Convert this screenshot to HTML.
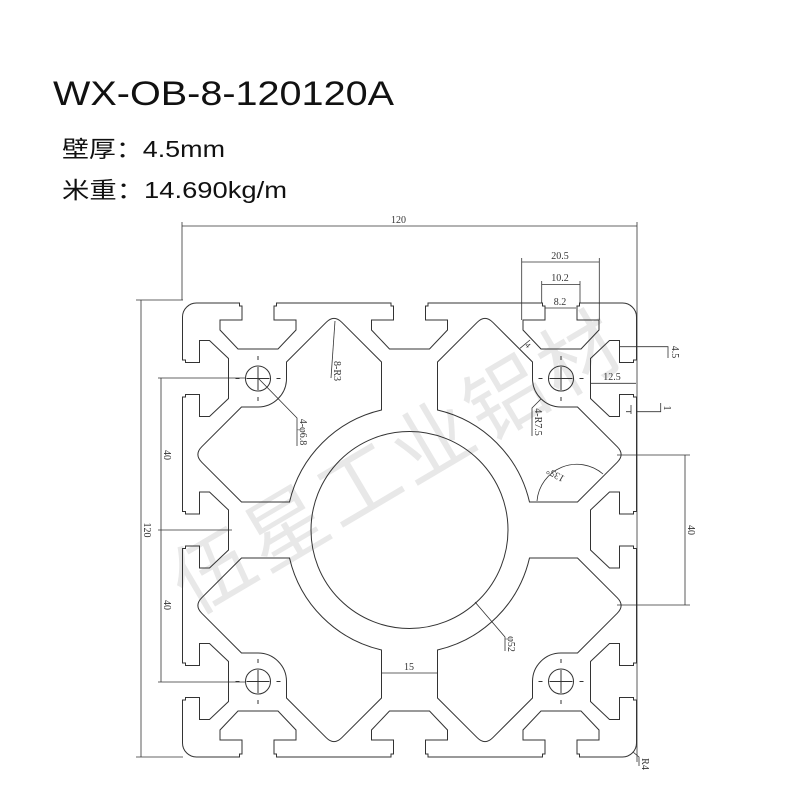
<!DOCTYPE html>
<html><head><meta charset="utf-8"><style>
html,body{margin:0;padding:0;background:#fff;}
svg{display:block;}
</style></head><body>
<svg width="800" height="800" viewBox="0 0 800 800" xmlns="http://www.w3.org/2000/svg">
<rect width="800" height="800" fill="#fff"/>
<text x="53" y="105" font-family="Liberation Sans, sans-serif" font-size="34" fill="#111" textLength="341" lengthAdjust="spacingAndGlyphs">WX-OB-8-120120A</text>
<text x="62" y="157" font-family="Liberation Sans, Noto Sans CJK SC, sans-serif" font-size="23" fill="#111" textLength="163" lengthAdjust="spacingAndGlyphs">壁厚：4.5mm</text>
<text x="62" y="198" font-family="Liberation Sans, Noto Sans CJK SC, sans-serif" font-size="23" fill="#111" textLength="225" lengthAdjust="spacingAndGlyphs">米重：14.690kg/m</text>

<text x="193" y="616" transform="rotate(-30.6 193 616)" font-family="Noto Sans CJK SC, sans-serif" font-size="80" letter-spacing="5" fill="#e8e8e8">伍星工业铝材</text>

<g transform="translate(409.5,530)" fill="none" stroke="#333" stroke-width="1">
  <defs>
    <path id="edge" d="M-213,-227 L-170,-227 L-170,-224 L-167.5,-224 L-167.5,-210 L-189.5,-210 L-189.5,-200 L-171.5,-181 L-131.5,-181 L-113.5,-200 L-113.5,-210 L-135.5,-210 L-135.5,-224 L-133,-224 L-133,-227 L-18.5,-227 L-18.5,-224 L-16,-224 L-16,-210 L-38,-210 L-38,-200 L-20,-181 L20,-181 L38,-200 L38,-210 L16,-210 L16,-224 L18.5,-224 L18.5,-227 L133,-227 L133,-224 L135.5,-224 L135.5,-210 L113.5,-210 L113.5,-200 L131.5,-181 L171.5,-181 L189.5,-200 L189.5,-210 L167.5,-210 L167.5,-224 L170,-224 L170,-227 L213,-227 A14,14 0 0 1 227,-213"/>
    <path id="cav" d="M-123,-168 L-83.3,-207.7 Q-75.5,-215.5 -67.7,-207.7 L-28,-168 L-28,-120 A123,123 0 0 0 -120,-28 L-168,-28 L-207.7,-67.7 Q-215.5,-75.5 -207.7,-83.3 L-168,-123 L-151.5,-123 A28.5,28.5 0 0 0 -123,-151.5 Z"/>
    <g id="hole">
      <circle cx="-151.5" cy="-151.5" r="12.5"/>
      <path d="M-163,-151.5 H-140 M-151.5,-163 V-140 M-174,-151.5 H-170 M-133,-151.5 H-129 M-151.5,-174 V-170 M-151.5,-133 V-129"/>
    </g>
  </defs>
  <use href="#edge"/>
  <use href="#edge" transform="rotate(90)"/>
  <use href="#edge" transform="rotate(180)"/>
  <use href="#edge" transform="rotate(270)"/>
  <use href="#cav"/>
  <use href="#cav" transform="rotate(90)"/>
  <use href="#cav" transform="rotate(180)"/>
  <use href="#cav" transform="rotate(270)"/>
  <use href="#hole"/>
  <use href="#hole" transform="rotate(90)"/>
  <use href="#hole" transform="rotate(180)"/>
  <use href="#hole" transform="rotate(270)"/>
  <circle cx="0" cy="0" r="98.5"/>
</g>

<g fill="none" stroke="#333" stroke-width="0.8">
  <!-- top 120 -->
  <path d="M182,226 H637 M182,222 V300 M637,222 V762"/>
  <!-- left 120 -->
  <path d="M141,300 V757 M136,300 H183 M136,757 H183"/>
  <!-- left 40s -->
  <path d="M161,378 V682 M158,378 H245 M158,530 H232 M158,682 H245"/>
  <!-- right 40 -->
  <path d="M685,455 V605 M617,455 H690 M617,605 H690"/>
  <!-- 20.5 / 10.2 / 8.2 -->
  <path d="M521.7,262 H599.3 M521.7,258 V320 M599.3,258 V320"/>
  <path d="M541.7,284.5 H580 M541.7,281 V303 M580,281 V303"/>
  <path d="M545,308 H576"/>
  <!-- 4.5 -->
  <path d="M620,346.7 H668 V358"/>
  <!-- 12.5 -->
  <path d="M590,383.3 H636"/>
  <!-- 1 -->
  <path d="M626,411.7 H631 M636.7,411.7 H660.7 V403 M631,405 V414"/>
  <!-- 4-R7.5 -->
  <path d="M541,399 L532,408 V436"/>
  <!-- 4 wall -->
  <path d="M520,348.3 L530,340"/>
  <!-- 4-φ6.8 -->
  <path d="M258,378 L297,418 V446"/>
  <!-- 8-R3 -->
  <path d="M335,321 L331,378"/>
  <!-- φ52 -->
  <path d="M475,602 L505,637 V651"/>
  <!-- 15 -->
  <path d="M381.5,673 H437.5"/>
  <!-- 135 -->
  <path d="M537,501 A40,40 0 0 1 603,474"/>
  <!-- R4 -->
  <path d="M633,752 L639,757 V766"/>
</g>

<g font-family="Liberation Serif, serif" font-size="10" fill="#333">
  <text x="391" y="223">120</text>
  <text transform="translate(144,530) rotate(90)" text-anchor="middle">120</text>
  <text transform="translate(164,455) rotate(90)" text-anchor="middle">40</text>
  <text transform="translate(164,605) rotate(90)" text-anchor="middle">40</text>
  <text transform="translate(688,530) rotate(90)" text-anchor="middle">40</text>
  <text x="560" y="259" text-anchor="middle">20.5</text>
  <text x="560" y="281" text-anchor="middle">10.2</text>
  <text x="560" y="305" text-anchor="middle">8.2</text>
  <text transform="translate(672,352) rotate(90)" text-anchor="middle">4.5</text>
  <text x="612" y="380" text-anchor="middle">12.5</text>
  <text transform="translate(664,408) rotate(90)" text-anchor="middle">1</text>
  <text transform="translate(535,422) rotate(90)" text-anchor="middle">4-R7.5</text>
  <text transform="translate(300,432) rotate(90)" text-anchor="middle">4-φ6.8</text>
  <text transform="translate(334,371) rotate(90)" text-anchor="middle">8-R3</text>
  <text transform="translate(508,644) rotate(90)" text-anchor="middle">φ52</text>
  <text x="409" y="670" text-anchor="middle">15</text>
  <text transform="translate(557,472) rotate(-150)" text-anchor="middle">135°</text>
  <text transform="translate(642,764) rotate(90)" text-anchor="middle">R4</text>
  <text transform="translate(526,347) rotate(45)" text-anchor="middle" font-size="8">4</text>
</g>
</svg>
</body></html>
